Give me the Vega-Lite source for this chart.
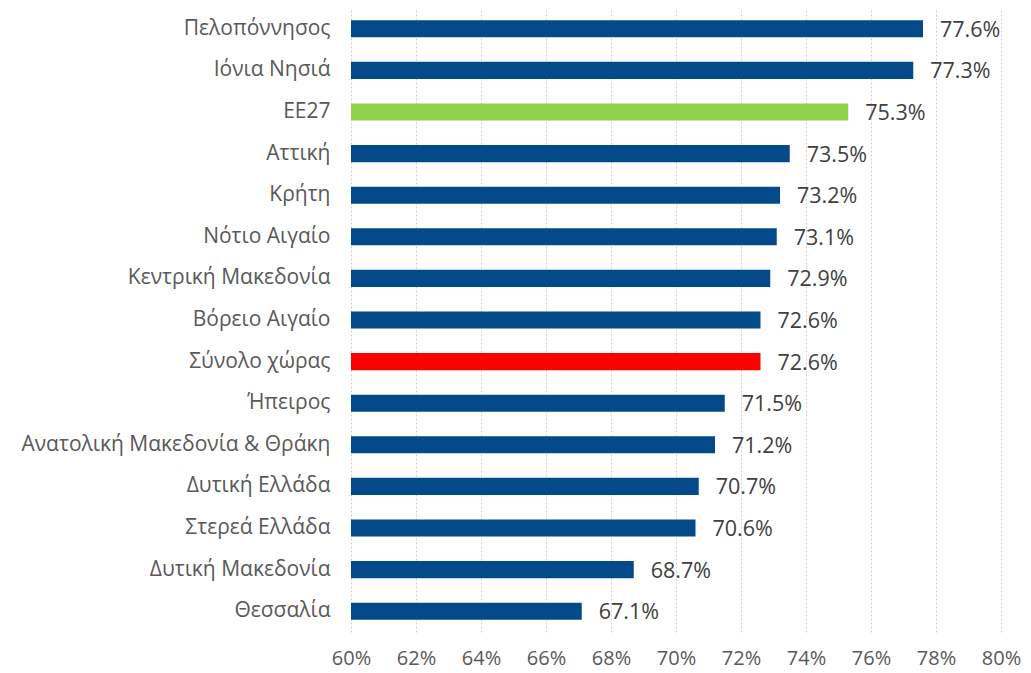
{
  "$schema": "https://vega.github.io/schema/vega-lite/v6.json",
  "width": 650,
  "height": 624,
  "autosize": "none",
  "padding": {"left": 351, "top": 8, "right": 30, "bottom": 41},
  "background": "white",
  "config": {
    "view": {"stroke": null},
    "font": "Open Sans"
  },
  "data": {
    "values": [
      {"region": "Πελοπόννησος", "value": 0.776, "group": "gr"},
      {"region": "Ιόνια Νησιά", "value": 0.773, "group": "gr"},
      {"region": "ΕΕ27", "value": 0.753, "group": "eu"},
      {"region": "Αττική", "value": 0.735, "group": "gr"},
      {"region": "Κρήτη", "value": 0.732, "group": "gr"},
      {"region": "Νότιο Αιγαίο", "value": 0.731, "group": "gr"},
      {"region": "Κεντρική Μακεδονία", "value": 0.729, "group": "gr"},
      {"region": "Βόρειο Αιγαίο", "value": 0.726, "group": "gr"},
      {"region": "Σύνολο χώρας", "value": 0.726, "group": "total"},
      {"region": "Ήπειρος", "value": 0.715, "group": "gr"},
      {"region": "Ανατολική Μακεδονία & Θράκη", "value": 0.712, "group": "gr"},
      {"region": "Δυτική Ελλάδα", "value": 0.707, "group": "gr"},
      {"region": "Στερεά Ελλάδα", "value": 0.706, "group": "gr"},
      {"region": "Δυτική Μακεδονία", "value": 0.687, "group": "gr"},
      {"region": "Θεσσαλία", "value": 0.671, "group": "gr"}
    ]
  },
  "encoding": {
    "y": {
      "field": "region",
      "type": "nominal",
      "sort": null,
      "scale": {"paddingInner": 0.59, "paddingOuter": 0.295},
      "axis": {
        "title": null,
        "domain": false,
        "ticks": false,
        "labelPadding": 21,
        "labelFontSize": 21,
        "labelColor": "#595959",
        "labelFont": "Open Sans",
        "labelLimit": 400
      }
    },
    "x": {
      "field": "value",
      "type": "quantitative",
      "scale": {"domain": [0.6, 0.8], "zero": false, "nice": false},
      "axis": {
        "title": null,
        "domain": false,
        "ticks": false,
        "values": [0.6, 0.62, 0.64, 0.66, 0.68, 0.7, 0.72, 0.74, 0.76, 0.78, 0.8],
        "format": ".0%",
        "labelPadding": 16,
        "labelFontSize": 20,
        "labelColor": "#595959",
        "labelFont": "Open Sans",
        "labelFlush": false,
        "grid": true,
        "gridColor": "#D0D0D0",
        "gridDash": [2, 2],
        "gridWidth": 1
      }
    }
  },
  "layer": [
    {
      "mark": {"type": "bar"},
      "encoding": {
        "x2": {"datum": 0.6},
        "color": {
          "field": "group",
          "type": "nominal",
          "scale": {"domain": ["gr", "eu", "total"], "range": ["#044A8B", "#92D050", "#FF0000"]},
          "legend": null
        }
      }
    },
    {
      "mark": {"type": "text", "align": "left", "baseline": "middle", "dx": 17, "dy": 2, "fontSize": 21.5, "color": "#404040", "font": "Open Sans"},
      "encoding": {
        "text": {"field": "value", "type": "quantitative", "format": ".1%"}
      }
    }
  ]
}
